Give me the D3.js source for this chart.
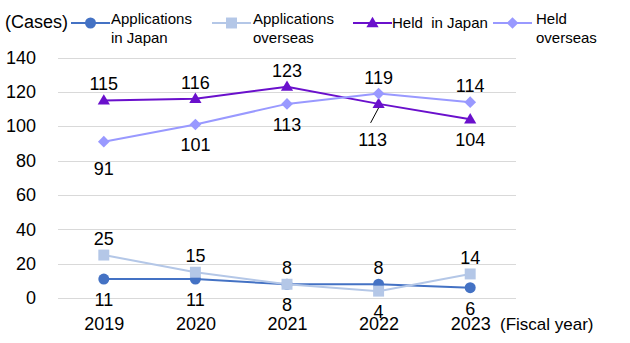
<!DOCTYPE html>
<html>
<head>
<meta charset="utf-8">
<script src="https://cdn.jsdelivr.net/npm/d3@7"></script>
<style>
  html, body { margin: 0; padding: 0; background: #fff; }
  svg { display: block; font-family: "Liberation Sans", Arial, sans-serif; }
</style>
</head>
<body>
<svg id="chart" width="630" height="343"></svg>
<script>
// ---- data ----
const years = ["2019", "2020", "2021", "2022", "2023"];
const appsJapan = [11, 11, 8, 8, 6];
const appsOverseas = [25, 15, 8, 4, 14];
const heldJapan = [115, 116, 123, 113, 104];
const heldOverseas = [91, 101, 113, 119, 114];
const yTicks = [0, 20, 40, 60, 80, 100, 120, 140];
const seriesNames = [["Applications", "in Japan"], ["Applications", "overseas"], ["Held  in Japan"], ["Held", "overseas"]];

// ---- setup ----
const svg = d3.select("#chart");
const x = d3.scalePoint().domain(years).range([58, 516]).padding(0.5);
const y = d3.scaleLinear().domain([0, 140]).range([298, 57.5]);

// custom marker shapes
const flatTriangle = {
  draw(ctx, size) {
    const w = Math.sqrt(size) * 0.68, h = w * 1.7;
    ctx.moveTo(0, -h * 0.6); ctx.lineTo(w, h * 0.4); ctx.lineTo(-w, h * 0.4); ctx.closePath();
  }
};
const squareDiamond = {
  draw(ctx, size) {
    const r = Math.sqrt(size) * 0.65;
    ctx.moveTo(0, -r); ctx.lineTo(r, 0); ctx.lineTo(0, r); ctx.lineTo(-r, 0); ctx.closePath();
  }
};

const series = [
  { name: seriesNames[0], values: appsJapan, color: "#4472C4", marker: d3.symbolCircle, size: 95,
    place: ["below", "below", "below", "above", "below"] },
  { name: seriesNames[1], values: appsOverseas, color: "#B4C7E7", marker: d3.symbolSquare, size: 120,
    place: ["above", "above", "above", "below", "above"] },
  { name: seriesNames[2], values: heldJapan, color: "#6A10CC", marker: flatTriangle, size: 81,
    place: ["above", "above", "above", "leader", "below"] },
  { name: seriesNames[3], values: heldOverseas, color: "#9999FF", marker: squareDiamond, size: 81,
    place: ["below91", "below", "below", "above", "above"] }
];

// gridlines
svg.append("g").selectAll("line").data(yTicks).join("line")
  .attr("x1", 58).attr("x2", 516)
  .attr("y1", d => Math.round(y(d)) + 0.5).attr("y2", d => Math.round(y(d)) + 0.5)
  .attr("stroke", "#D9D9D9").attr("stroke-width", 1);

// y axis labels
const yAxis = d3.axisLeft(y).tickValues(yTicks).tickSize(0).tickPadding(0);
const gy = svg.append("g").attr("transform", "translate(36,0)").call(yAxis);
gy.select(".domain").remove();
gy.selectAll("text").attr("font-size", 18).attr("fill", "#000")
  .attr("font-family", "Liberation Sans, Arial, sans-serif");

// x axis labels
const xAxis = d3.axisBottom(x).tickSize(0).tickPadding(0);
const gx = svg.append("g").attr("transform", "translate(0,317)").call(xAxis);
gx.select(".domain").remove();
gx.selectAll("text").attr("font-size", 18).attr("fill", "#000")
  .attr("font-family", "Liberation Sans, Arial, sans-serif");

svg.append("text").attr("x", 500).attr("y", 330).attr("font-size", 17).text("(Fiscal year)");
svg.append("text").attr("x", 5).attr("y", 28).attr("font-size", 18).text("(Cases)");

// lines and markers
const line = d3.line().x((d, i) => x(years[i])).y(d => y(d));
series.forEach(s => {
  const g = svg.append("g");
  g.append("path").attr("d", line(s.values)).attr("fill", "none")
    .attr("stroke", s.color).attr("stroke-width", 2);
  g.selectAll("path.m").data(s.values).join("path").attr("class", "m")
    .attr("d", d3.symbol().type(s.marker).size(s.size))
    .attr("transform", (d, i) => `translate(${x(years[i])},${y(d)})`)
    .attr("fill", s.color);
});

// data labels
series.forEach(s => {
  s.values.forEach((v, i) => {
    const px = x(years[i]), py = y(v);
    let lx = px, ly;
    const p = s.place[i];
    if (p === "above") ly = py - 10;
    else if (p === "below") ly = py + 27;
    else if (p === "below91") ly = py + 33;
    else if (p === "leader") {
      lx = px - 6; ly = py + 42;
      svg.append("line").attr("x1", px - 8).attr("y1", py + 19).attr("x2", px).attr("y2", py + 4)
        .attr("stroke", "#000").attr("stroke-width", 1);
    }
    svg.append("text").attr("x", lx).attr("y", ly).attr("text-anchor", "middle")
      .attr("font-size", 18).attr("fill", "#000").text(v);
  });
});

// legend
const legendX = [71, 212, 353, 493];
const legendTextX = [111, 253, 392, 536];
series.forEach((s, k) => {
  const g = svg.append("g");
  const x0 = legendX[k], ly = 23;
  g.append("line").attr("x1", x0).attr("x2", x0 + 39).attr("y1", ly).attr("y2", ly)
    .attr("stroke", s.color).attr("stroke-width", 2);
  g.append("path").attr("d", d3.symbol().type(s.marker).size(s.size))
    .attr("transform", `translate(${x0 + 19.5},${ly})`).attr("fill", s.color);
  const t = g.append("text").attr("x", legendTextX[k]).attr("font-size", 15).attr("fill", "#000");
  if (s.name.length === 1) {
    t.attr("y", ly + 5).style("white-space", "pre").text(s.name[0]);
  } else {
    t.attr("y", ly + 1);
    s.name.forEach((n, j) => {
      t.append("tspan").attr("x", legendTextX[k]).attr("dy", j === 0 ? 0 : 19).text(n);
    });
  }
});
</script>
</body>
</html>
